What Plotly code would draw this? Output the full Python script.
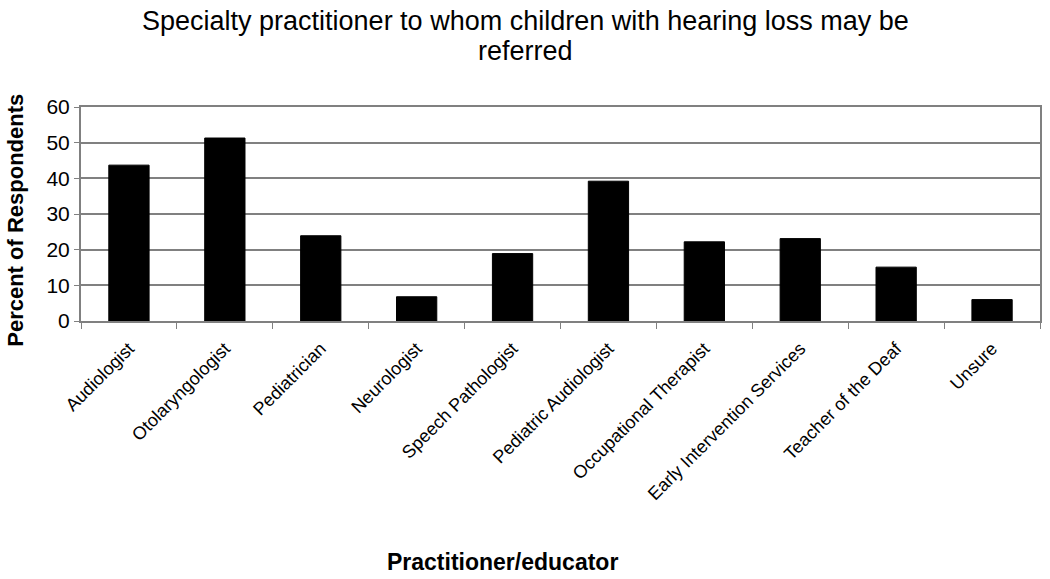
import plotly.graph_objects as go

# Referral destinations and share of respondents (%)
practitioners = [
    "Audiologist", "Otolaryngologist", "Pediatrician", "Neurologist",
    "Speech Pathologist", "Pediatric Audiologist", "Occupational Therapist",
    "Early Intervention Services", "Teacher of the Deaf", "Unsure",
]
percent = [43.7, 51.3, 23.9, 6.8, 18.9, 39.2, 22.2, 23.1, 15.1, 6.0]

y_ticks = [0, 10, 20, 30, 40, 50, 60]

fig = go.Figure()

fig.add_trace(
    go.Bar(
        x=practitioners,
        y=percent,
        marker=dict(color="black", line=dict(color="black", width=1)),
        showlegend=False,
    )
)

fig.update_layout(
    width=1050,
    height=579,
    margin=dict(l=81, r=10, t=107, b=258),
    paper_bgcolor="white",
    plot_bgcolor="white",
    bargap=0.58,
    font=dict(family="Liberation Sans, Arial, sans-serif", color="black"),
)

fig.update_xaxes(
    automargin=False,
    tickangle=-45,
    tickfont=dict(size=18),
    ticklabelstandoff=8,
    showline=True, linecolor="#808080", linewidth=2, mirror=True,
    ticks="outside", ticklen=6, tickcolor="#808080",
    tickson="boundaries",
    showgrid=False,
)

fig.update_yaxes(
    automargin=False,
    range=[0, 60],
    tickvals=y_ticks,
    tickfont=dict(size=21),
    showline=True, linecolor="#808080", linewidth=2, mirror=True,
    ticks="outside", ticklen=5, tickcolor="#808080",
    showgrid=True, gridcolor="#808080", gridwidth=1.5,
    zeroline=False,
)

# Title lines
fig.add_annotation(
    text="Specialty practitioner to whom children with hearing loss may be",
    xref="paper", yref="paper",
    x=0.463, y=1.4, xanchor="center", yanchor="middle",
    showarrow=False, font=dict(size=27), borderpad=0,
)
fig.add_annotation(
    text="referred",
    xref="paper", yref="paper",
    x=0.463, y=1.262, xanchor="center", yanchor="middle",
    showarrow=False, font=dict(size=27), borderpad=0,
)

# Axis titles
fig.add_annotation(
    text="<b>Percent of Respondents</b>",
    xref="paper", yref="paper",
    x=-0.068, y=0.472, xanchor="center", yanchor="middle",
    textangle=-90, showarrow=False,
    font=dict(size=22), borderpad=0,
)
fig.add_annotation(
    text="<b>Practitioner/educator</b>",
    xref="paper", yref="paper",
    x=0.439, y=-1.126, xanchor="center", yanchor="middle",
    showarrow=False,
    font=dict(size=23),
)

# drop the default 8px body margin so the figure fills the window
fig.write_html(
    "out.html",
    config={"displayModeBar": False},
    post_script="document.body.style.margin='0';",
)
